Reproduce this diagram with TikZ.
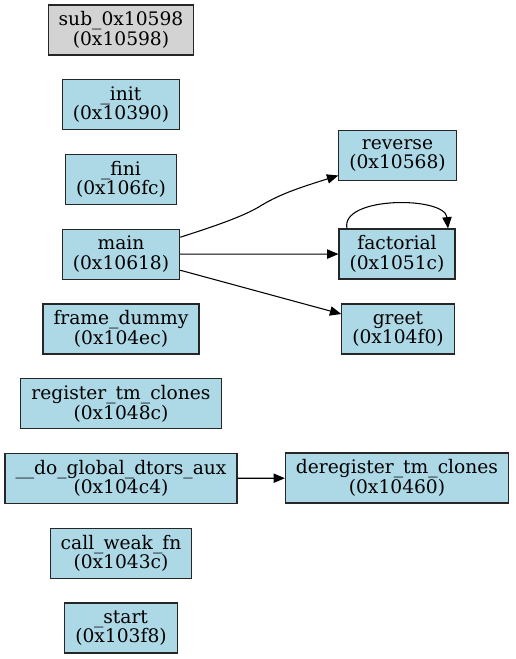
\documentclass[tikz,border=0pt]{standalone}
\usepackage{fontspec}
\setmainfont{DejaVu Serif}
\usetikzlibrary{positioning,arrows.meta}

\begin{document}
\begin{tikzpicture}[x=0.75pt,y=-0.75pt,node distance=56.06pt,
	fn/.style={draw=black!85,line width=0.8pt,fill={rgb,255:red,173;green,216;blue,230},
		rectangle,align=center,minimum height=37.5pt,inner xsep=7.9pt,inner ysep=1pt,
		font=\fontsize{14}{14.5}\selectfont},
	call/.style={line width=0.8pt,-{Triangle[length=8.5pt,width=7pt]}}]
	\useasboundingbox (0,0) rectangle (516,659);
	\node[fn,fill={rgb,255:red,211;green,211;blue,211}] (sub) at (121,30) {sub\_0x10598\\(0x10598)};
	\node[fn] (init) [below of=sub] {\_init\\(0x10390)};
	\node[fn] (fini) [below of=init] {\_fini\\(0x106fc)};
	\node[fn] (main) [below of=fini] {main\\(0x10618)};
	\node[fn] (framedummy) [below of=main] {frame\_dummy\\(0x104ec)};
	\node[fn] (regtm) [below of=framedummy] {register\_tm\_clones\\(0x1048c)};
	\node[fn] (dtors) [below of=regtm] {\_\_do\_global\_dtors\_aux\\(0x104c4)};
	\node[fn] (weakfn) [below of=dtors] {call\_weak\_fn\\(0x1043c)};
	\node[fn] (start) [below of=weakfn] {\_start\\(0x103f8)};
	\node[fn] (reverse) at (397.5,155.5) {reverse\\(0x10568)};
	\node[fn] (factorial) at (397,254) {factorial\\(0x1051c)};
	\node[fn] (greet) at (398,329) {greet\\(0x104f0)};
	\node[fn] (deregtm) at (397,478) {deregister\_tm\_clones\\(0x10460)};
	\draw[call] ([yshift=12.75pt]main.east) .. controls (215,226) and (245,216) .. (262,205)
		.. controls (282,193) and (305,186) .. ([yshift=-15pt]reverse.west);
	\draw[call] (main) -- (factorial);
	\draw[call] ([yshift=-12pt]main.east) -- ([yshift=11.25pt]greet.west);
	\draw[call] ([xshift=-37.5pt]factorial.north) .. controls (340,196) and (445,196) .. ([xshift=38.25pt]factorial.north);
	\draw[call] (dtors) -- (deregtm);
\end{tikzpicture}
\end{document}
